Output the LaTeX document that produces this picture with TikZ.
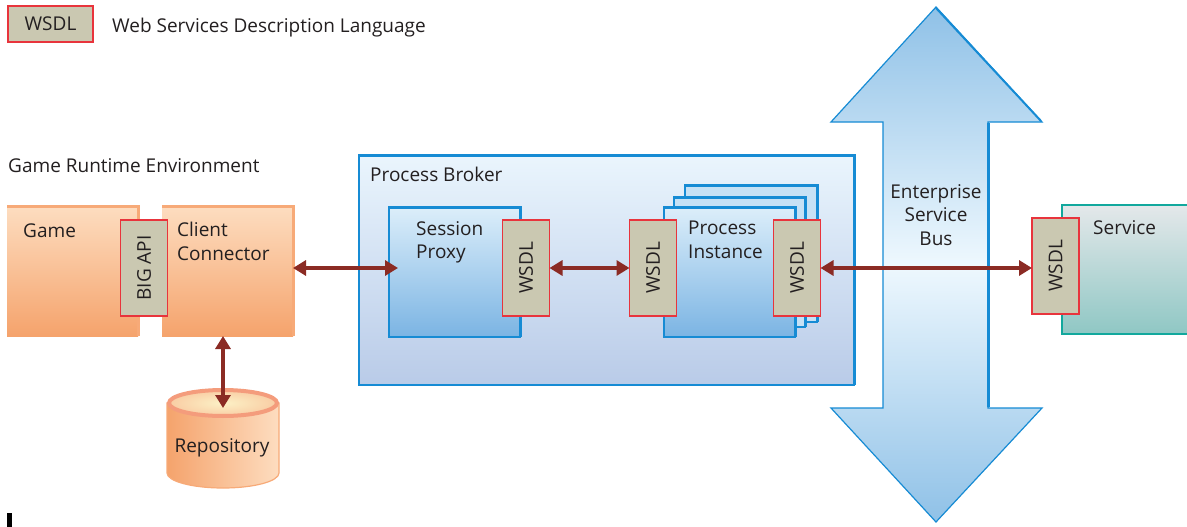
\documentclass[tikz,border=0pt]{standalone}
\usepackage{fontspec}
\setmainfont{Open Sans}
\usetikzlibrary{arrows.meta}

\definecolor{txt}{HTML}{231F20}
\definecolor{wsdlfill}{HTML}{CAC8B1}
\definecolor{wsdlred}{HTML}{E8343C}
\definecolor{linkred}{HTML}{8B2B24}
\definecolor{orTop}{HTML}{FDDDC0}
\definecolor{orBot}{HTML}{F5A36C}
\definecolor{orEdge}{HTML}{F7AA78}
\definecolor{pbTop}{HTML}{EAF5FD}
\definecolor{pbBot}{HTML}{B9CBE8}
\definecolor{bEdge}{HTML}{168BD4}
\definecolor{spTop}{HTML}{DCEEFA}
\definecolor{spBot}{HTML}{7BB4E3}
\definecolor{stackFill}{HTML}{C6E1F5}
\definecolor{esbEnd}{HTML}{8FC1E7}
\definecolor{esbMid}{HTML}{EEF8FE}
\definecolor{svTop}{HTML}{E4E8EA}
\definecolor{svBot}{HTML}{8FC7C4}
\definecolor{tealEdge}{HTML}{12A89D}
\definecolor{repoRim}{HTML}{F49C7C}
\definecolor{repoIn}{HTML}{FCF1C6}
\definecolor{repoOut}{HTML}{F9CDA4}

\begin{document}
\begin{tikzpicture}[x=1pt,y=-1pt,
  font=\fontsize{19}{23.5}\selectfont, text=txt,
  lbl/.style={inner sep=0pt, anchor=north west, align=left,
    execute at begin node={\rule{0pt}{15pt}}},
  lblc/.style={lbl, anchor=north, align=center},
  wsdl/.style={draw=wsdlred, line width=1.4pt, fill=wsdlfill,
    inner sep=0pt, outer sep=0pt},
  vwsdl/.style={wsdl, rotate=90, minimum width=96pt, minimum height=47pt},
  blockbox/.style={inner sep=0pt, outer sep=0pt, anchor=north west,
    minimum width=131pt, minimum height=130pt},
  orbox/.style={blockbox, top color=orTop, bottom color=orBot},
  bluebox/.style={blockbox, top color=spTop, bottom color=spBot,
    draw=bEdge, line width=1.3pt},
  stackbox/.style={blockbox, fill=stackFill, draw=bEdge, line width=1.3pt},
  oredge/.style={draw=orEdge, line width=3pt},
  bedge/.style={draw=bEdge, line width=3pt},
  link/.style={draw=linkred, line width=3.2pt,
    {Triangle[length=13pt,width=15pt]}-{Triangle[length=13pt,width=15pt]}},
]
\clip (0,0) rectangle (1187,527);
\useasboundingbox (0,0) rectangle (1187,527);

% legend
\node[wsdl, minimum width=85pt, minimum height=36pt, anchor=north west]
  (legend) at (8,6) {WSDL};
\node[lbl] (legendtext) at (112,17) {Web Services Description Language};

% game runtime environment
\node[lbl] (gre) at (8,157) {Game Runtime Environment};
\node[orbox] (game) at (7,206) {};
\draw[oredge] (game.north west) -- (game.north east) -- (game.south east);
\node[orbox] (cc) at (162,206) {};
\draw[oredge] (cc.north west) -- (cc.north east) -- (cc.south east);
\node[lbl] (gamelbl) at (23,222) {Game};
\node[lbl] (cclbl) at (177,222) {Client\\Connector};
\node[vwsdl] (bigapi) at (144,268) {BIG API};

% repository cylinder
\path[left color=orBot, right color=orTop, draw=orEdge, line width=1.2pt]
  (167,403) -- (167,473) arc[start angle=180, end angle=0,
  x radius=56, y radius=15] -- (279,403) -- cycle;
\path[inner color=repoIn, outer color=repoOut, draw=repoRim, line width=4pt]
  (223,403) ellipse[x radius=54, y radius=13];
\coordinate (repotop) at (223,408);
\node[lblc] (repo) at (222,437) {Repository};

% process broker
\node[inner sep=0pt, outer sep=0pt, anchor=north west,
  minimum width=495pt, minimum height=230pt,
  top color=pbTop, bottom color=pbBot, draw=bEdge, line width=1.3pt]
  (pb) at (359,155) {};
\draw[bedge] (pb.north west) -- (pb.north east) -- (pb.south east);
\node[lbl] (pblbl) at (370,166) {Process Broker};

% session proxy
\node[bluebox] (sp) at (389,207) {};
\draw[bedge] (sp.north west) -- (sp.north east) -- (sp.south east);
\node[lbl] (splbl) at (416,221) {Session\\Proxy};
\node[vwsdl] (spw) at (526,268) {WSDL};

% process instances (stacked)
\node[stackbox, minimum width=132pt, minimum height=137pt] (pi3) at (685,185) {};
\draw[bedge] (pi3.north west) -- (pi3.north east) -- (pi3.south east);
\node[stackbox, minimum width=131pt, minimum height=130pt] (pi2) at (674,197) {};
\draw[bedge] (pi2.north west) -- (pi2.north east) -- (pi2.south east);
\node[bluebox] (pi) at (664,207) {};
\draw[bedge] (pi.north west) -- (pi.north east) -- (pi.south east);
\node[lbl] (pilbl) at (688,221) {Process\\Instance};
\node[vwsdl] (piwl) at (653,268) {WSDL};
\node[vwsdl] (piwr) at (797,268) {WSDL};

% enterprise service bus
\path[top color=esbEnd, bottom color=esbEnd, middle color=esbMid,
  draw=bEdge, line width=1.2pt]
  (936,7) -- (1042,122) -- (988,122) -- (988,408) -- (1042,408)
  -- (936,522) -- (831,408) -- (883,408) -- (883,122) -- (831,122) -- cycle;
\draw[draw=bEdge, line width=3pt] (988,123) -- (988,407);
\draw[draw=bEdge, line width=2pt] (936,8) -- (1041,121);
\node[lblc] (esb) at (936,184) {Enterprise\\Service\\Bus};

% external service
\node[inner sep=0pt, outer sep=0pt, anchor=north west,
  minimum width=140pt, minimum height=129pt,
  top color=svTop, bottom color=svBot, draw=tealEdge, line width=2.5pt]
  (sv) at (1062,205) {};
\node[lbl] (svlbl) at (1093,219) {Service};
\node[vwsdl] (svw) at (1055.5,266) {WSDL};

% connectors
\draw[link] (cc.east |- spw.center) -- ([xshift=9pt]sp.west |- spw.center);
\draw[link] (spw.south) -- (piwl.north);
\draw[link] (piwr.south) -- (svw.north |- piwr.south);
\draw[link] (cc.south -| repotop) -- (repotop);

% small mark at the lower left edge
\fill[black] (7,513) rectangle (12,527);
\end{tikzpicture}
\end{document}
